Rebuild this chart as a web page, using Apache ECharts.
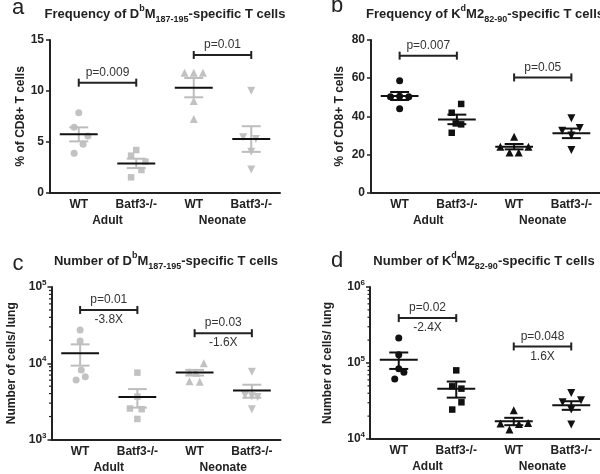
<!DOCTYPE html>
<html><head><meta charset="utf-8">
<script src="https://cdn.jsdelivr.net/npm/echarts@6/dist/echarts.min.js"></script>
<style>html,body{margin:0;padding:0;background:#fff}#c{width:600px;height:474px}</style>
</head><body><div id="c"></div>
<script>
// ---------- DATA ----------
const categories = ['WT', 'Batf3-/-', 'WT', 'Batf3-/-'];
const groupLabels = ['Adult', 'Neonate'];

// Panel a: Frequency of DbM187-195-specific T cells (% of CD8+ T cells)
const aValues = [[7.86, 6.42, 5.57, 4.75, 3.87], [4.19, 3.64, 3.05, 2.23, 1.51], [11.79, 11.79, 11.79, 9.0, 7.24], [10.02, 5.44, 5.27, 4.03, 2.29]];
const aJitter = [[0, -0.08, 0.16, 0.075, -0.08], [0, -0.09, 0.16, 0.09, -0.09], [-0.16, 0, 0.16, 0, 0], [0, -0.14, 0.08, 0, 0]];
const aMean = [5.73, 2.88, 10.32, 5.27];
const aSem = [0.69, 0.46, 0.95, 1.26];
const aBracketY = [10.81, 13.53];
const aPText = ['p=0.009', 'p=0.01'];
const aFoldText = ['', ''];
const aYTicks = [0, 5, 10, 15];

// Panel b: Frequency of KdM2 82-90-specific T cells
const bValues = [[58.7, 50.3, 50.5, 50.3, 44.0], [46.5, 41.9, 36.3, 35.8, 31.4], [29.3, 24.1, 24.1, 21.0, 21.0], [39.0, 33.9, 32.5, 30.0, 22.4]];
const bJitter = [[0, -0.16, 0, 0.16, 0], [0.075, -0.09, -0.02, 0.075, -0.09], [0, -0.24, 0.25, -0.08, 0.08], [0, 0.145, -0.16, 0, 0]];
const bMean = [50.66, 38.4, 24.1, 31.1];
const bSem = [2.1, 2.5, 1.4, 2.5];
const bBracketY = [71.8, 60.4];
const bPText = ['p=0.007', 'p=0.05'];
const bFoldText = ['', ''];
const bYTicks = [0, 20, 40, 60, 80];

// Panel c: Number of DbM187-195-specific T cells (cells / lung)
const cValues = [[27300, 19600, 8160, 6670, 6040], [7530, 3650, 2550, 2500, 1860], [10000, 7700, 7500, 5800, 5700], [7760, 3800, 3700, 3600, 2490]];
const cJitter = [[0, 0, 0.02, 0.09, -0.07], [0, 0, -0.13, 0.075, 0], [0.16, -0.09, 0.03, -0.09, 0.09], [0, -0.12, 0, 0.1, 0]];
const cMean = [13500, 3600, 7540, 4380];
const cSem = [4200, 980, 640, 850];
const cBracketY = [50000, 24800];
const cPText = ['p=0.01', 'p=0.03'];
const cFoldText = ['-3.8X', '-1.6X'];
const cYTicks = [1000, 10000, 100000];

// Panel d: Number of KdM2 82-90-specific T cells (cells / lung)
const dValues = [[213000, 128000, 84100, 75300, 61700], [80000, 49300, 46000, 30400, 24400], [23900, 16000, 15800, 16200, 13300], [40400, 30400, 32300, 24400, 15500]];
const dJitter = [[0, 0, 0, 0.09, -0.07], [0, -0.07, 0.09, 0.09, -0.07], [0, -0.23, 0.09, 0.25, -0.075], [0, -0.15, 0.17, 0, 0]];
const dMean = [110500, 46000, 17100, 27800];
const dSem = [27000, 11000, 1900, 3600];
const dBracketY = [390000, 165000];
const dPText = ['p=0.02', 'p=0.048'];
const dFoldText = ['-2.4X', '1.6X'];
const dYTicks = [10000, 100000, 1000000];

// ---------- CHART ----------
const FONT = '"Liberation Sans", Arial, sans-serif';
const TXT = '#222';
const symbols = ['circle', 'rect', 'triangle', 'triangle'];
const symbolRot = [0, 0, 0, 180];
const symbolSizes = [7, 6.5, 8, 8];

const panels = [
  { values: aValues, jitter: aJitter, mean: aMean, sem: aSem, bY: aBracketY, pT: aPText, fT: aFoldText, ticks: aYTicks, log: false,
    grid: { left: 50, top: 40, width: 230, height: 152.7 }, color: '#c2c2c2', semColor: '#bdbdbd',
    yName: '% of CD8+ T cells', nameGap: 22 },
  { values: bValues, jitter: bJitter, mean: bMean, sem: bSem, bY: bBracketY, pT: bPText, fT: bFoldText, ticks: bYTicks, log: false,
    grid: { left: 371, top: 40, width: 229, height: 152.7 }, color: '#111', semColor: '#111',
    yName: '% of CD8+ T cells', nameGap: 25 },
  { values: cValues, jitter: cJitter, mean: cMean, sem: cSem, bY: cBracketY, pT: cPText, fT: cFoldText, ticks: cYTicks, log: true,
    grid: { left: 51.5, top: 287, width: 229, height: 152.5 }, color: '#c2c2c2', semColor: '#bdbdbd',
    yName: 'Number of cells/ lung', nameGap: 34 },
  { values: dValues, jitter: dJitter, mean: dMean, sem: dSem, bY: dBracketY, pT: dPText, fT: dFoldText, ticks: dYTicks, log: true,
    grid: { left: 370, top: 287, width: 230, height: 152 }, color: '#111', semColor: '#111',
    yName: 'Number of cells/ lung', nameGap: 36 }
];

const grid = [], xAxis = [], yAxis = [], series = [];

panels.forEach((P, p) => {
  grid.push(P.grid);
  // category axis with labels
  xAxis.push({
    type: 'category', gridIndex: p, data: categories, position: 'bottom',
    axisLine: { onZero: false, lineStyle: { color: TXT, width: 2 } },
    axisTick: { alignWithLabel: true, length: 4, lineStyle: { color: TXT, width: 1.5 } },
    axisLabel: { fontFamily: FONT, fontSize: 12, fontWeight: 'bold', color: TXT, margin: 6 }
  });
  // group label axis
  xAxis.push({
    type: 'category', gridIndex: p, data: groupLabels, position: 'bottom', offset: 16,
    axisLine: { show: false, onZero: false }, axisTick: { show: false },
    axisLabel: { fontFamily: FONT, fontSize: 12, fontWeight: 'bold', color: TXT, margin: 6 }
  });
  // hidden value axis for placement
  xAxis.push({ type: 'value', gridIndex: p, min: -0.5, max: 3.5, show: false, axisLine: { onZero: false } });

  const yBase = {
    gridIndex: p, min: P.ticks[0], max: P.ticks[P.ticks.length - 1], position: 'left',
    name: P.yName, nameLocation: 'middle', nameGap: P.nameGap, nameRotate: 90,
    nameTextStyle: { fontFamily: FONT, fontSize: 12, fontWeight: 'bold', color: TXT },
    axisLine: { show: true, onZero: false, lineStyle: { color: TXT, width: 2 } },
    axisTick: { show: true, length: 4, lineStyle: { color: TXT, width: 1.5 } },
    splitLine: { show: false }
  };
  if (P.log) {
    Object.assign(yBase, {
      type: 'log', logBase: 10,
      axisLabel: {
        margin: 5,
        formatter: v => '{b|10}{s|' + Math.round(Math.log10(v)) + '}',
        rich: {
          b: { fontFamily: FONT, fontSize: 12, fontWeight: 'bold', color: TXT, lineHeight: 16 },
          s: { fontFamily: FONT, fontSize: 8, fontWeight: 'bold', color: TXT, lineHeight: 10, verticalAlign: 'top' }
        }
      }
    });
  } else {
    Object.assign(yBase, {
      type: 'value', interval: P.ticks[1] - P.ticks[0],
      axisLabel: { fontFamily: FONT, fontSize: 12, fontWeight: 'bold', color: TXT, margin: 6 }
    });
  }
  yAxis.push(yBase);

  const xi = 3 * p + 2;
  // points
  P.values.forEach((vals, g) => {
    series.push({
      type: 'scatter', xAxisIndex: xi, yAxisIndex: p, z: 2,
      symbol: symbols[g], symbolRotate: symbolRot[g], symbolSize: symbolSizes[g],
      itemStyle: { color: P.color, opacity: 1 },
      data: vals.map((v, i) => [g + P.jitter[g][i], v]),
      silent: true, animation: false
    });
  });
  // mean +/- SEM
  series.push({
    type: 'custom', xAxisIndex: xi, yAxisIndex: p, z: 3, animation: false, silent: true,
    data: P.mean.map((m, g) => [g, m, P.sem[g]]),
    renderItem: (params, api) => {
      const c = api.value(0), m = api.value(1), s = api.value(2);
      const pm = api.coord([c, m]);
      const pl = api.coord([c - 0.33, m]);
      const pr = api.coord([c + 0.33, m]);
      const hi = api.coord([c, m + s]);
      const lo = api.coord([c, m - s]);
      const cw = (pr[0] - pm[0]) * 0.5;
      const semStyle = { stroke: P.semColor, lineWidth: 2 };
      return {
        type: 'group', children: [
          { type: 'line', shape: { x1: pm[0], y1: hi[1], x2: pm[0], y2: lo[1] }, style: semStyle },
          { type: 'line', shape: { x1: pm[0] - cw, y1: hi[1], x2: pm[0] + cw, y2: hi[1] }, style: semStyle },
          { type: 'line', shape: { x1: pm[0] - cw, y1: lo[1], x2: pm[0] + cw, y2: lo[1] }, style: semStyle },
          { type: 'line', shape: { x1: pl[0], y1: pm[1], x2: pr[0], y2: pm[1] }, style: { stroke: '#111', lineWidth: 2 } }
        ]
      };
    }
  });
  // brackets
  series.push({
    type: 'custom', xAxisIndex: xi, yAxisIndex: p, z: 4, animation: false, silent: true,
    data: P.bY.map((y, k) => [2 * k, 2 * k + 1, y]),
    renderItem: (params, api) => {
      const k = params.dataIndex;
      const y = api.value(2);
      const p1 = api.coord([api.value(0), y]);
      const p2 = api.coord([api.value(1), y]);
      const st = { stroke: '#222', lineWidth: 2 };
      const mid = (p1[0] + p2[0]) / 2;
      const ts = (t, yy) => ({ type: 'text', style: { text: t, x: mid, y: yy, align: 'center', verticalAlign: 'middle', textAlign: 'center', textVerticalAlign: 'middle', fontFamily: FONT, fontSize: 12, fill: '#333' } });
      const ch = [
        { type: 'line', shape: { x1: p1[0], y1: p1[1], x2: p2[0], y2: p2[1] }, style: st },
        { type: 'line', shape: { x1: p1[0], y1: p1[1] - 4, x2: p1[0], y2: p1[1] + 4 }, style: st },
        { type: 'line', shape: { x1: p2[0], y1: p2[1] - 4, x2: p2[0], y2: p2[1] + 4 }, style: st },
        ts(P.pT[k], p1[1] - 10)
      ];
      if (P.fT[k]) ch.push(ts(P.fT[k], p1[1] + 10));
      return { type: 'group', children: ch };
    }
  });
  // minor ticks on log axes
  if (P.log) {
    const minor = [];
    for (let d = 0; d < P.ticks.length - 1; d++) for (let m = 2; m <= 9; m++) minor.push(P.ticks[d] * m);
    series.push({
      type: 'custom', xAxisIndex: xi, yAxisIndex: p, z: 5, animation: false, silent: true,
      data: minor.map(v => [-0.5, v]),
      renderItem: (params, api) => {
        const pt = api.coord([api.value(0), api.value(1)]);
        return { type: 'line', shape: { x1: pt[0] - 2.5, y1: pt[1], x2: pt[0], y2: pt[1] }, style: { stroke: TXT, lineWidth: 1.2 } };
      }
    });
  }
});

// titles and panel letters
const titleRich = {
  n: { fontFamily: FONT, fontSize: 13, fontWeight: 'bold', fill: TXT, color: TXT, lineHeight: 20 },
  sup: { fontFamily: FONT, fontSize: 9, fontWeight: 'bold', fill: TXT, color: TXT, lineHeight: 12, verticalAlign: 'top' },
  sub: { fontFamily: FONT, fontSize: 9, fontWeight: 'bold', fill: TXT, color: TXT, lineHeight: 12, verticalAlign: 'bottom' }
};
const titles = [
  ['{n|Frequency of D}{sup|b}{n|M}{sub|187-195}{n|-specific T cells}', 165, 14],
  ['{n|Frequency of K}{sup|d}{n|M2}{sub|82-90}{n|-specific T cells}', 485, 14],
  ['{n|Number of D}{sup|b}{n|M}{sub|187-195}{n|-specific T cells}', 166, 261],
  ['{n|Number of K}{sup|d}{n|M2}{sub|82-90}{n|-specific T cells}', 484, 261]
];
const letters = [['a', 18, 8], ['b', 337, 6], ['c', 18, 264], ['d', 337, 261]];
const graphic = [];
titles.forEach(([t, x, y]) => graphic.push({
  type: 'text', x: x, y: y, silent: true,
  style: { text: t, rich: titleRich, align: 'center', verticalAlign: 'middle', textAlign: 'center', textVerticalAlign: 'middle' }
}));
letters.forEach(([t, x, y]) => graphic.push({
  type: 'text', x: x, y: y, silent: true,
  style: { text: t, fontFamily: FONT, fontSize: 22, fill: TXT, align: 'center', verticalAlign: 'middle', textAlign: 'center', textVerticalAlign: 'middle' }
}));

const chart = echarts.init(document.getElementById('c'), null, { renderer: 'canvas' });
chart.setOption({ animation: false, backgroundColor: '#fff', grid, xAxis, yAxis, series, graphic });
</script>
</body></html>
